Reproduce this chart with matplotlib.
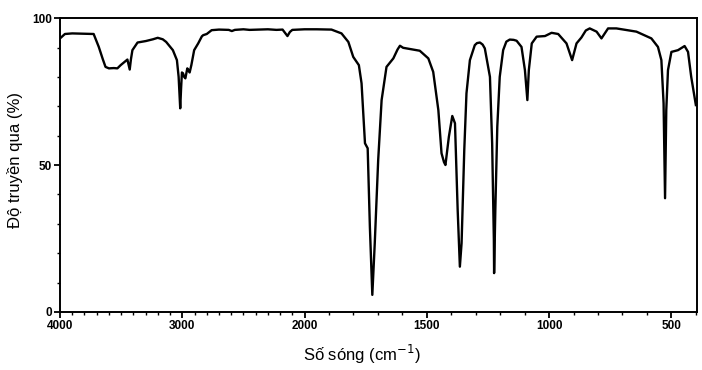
import numpy as np
import matplotlib
matplotlib.use("Agg")
import matplotlib.pyplot as plt
from matplotlib.ticker import FixedLocator

plt.rcParams['font.family'] = ['Liberation Sans', 'DejaVu Sans']

wavenumber = [4000, 3960, 3900, 3800, 3725, 3683, 3650, 3628, 3600, 3560, 3531, 3504,
              3475, 3449, 3438, 3430, 3420, 3408, 3366, 3298, 3240, 3201, 3160, 3132,
              3077, 3044, 3030, 3022, 3017, 3010, 3003, 2994, 2985, 2975, 2959, 2950,
              2940, 2926, 2903, 2870, 2840, 2829, 2800, 2760, 2700, 2620, 2595, 2570,
              2500, 2450, 2300, 2230, 2180, 2160, 2140, 2120, 2100, 2000, 1950, 1890,
              1849, 1821, 1801, 1778, 1767, 1753, 1742, 1733, 1723, 1713, 1699, 1685,
              1665, 1637, 1620, 1610, 1597, 1576, 1529, 1494, 1474, 1453, 1440, 1430,
              1424, 1410, 1396, 1385, 1374, 1365, 1358, 1347, 1338, 1324, 1304, 1295,
              1283, 1272, 1263, 1242, 1233, 1226, 1225, 1220, 1212, 1202, 1188, 1175,
              1161, 1145, 1133, 1113, 1099, 1089, 1083, 1071, 1051, 1017, 990, 963,
              929, 906, 888, 868, 850, 834, 806, 786, 759, 725, 643, 582,
              555, 541, 532, 526, 521, 514, 500, 473, 446, 432, 419, 400]
transmittance = [93.1, 94.6, 94.8, 94.7, 94.6, 90.2, 86.0, 83.4, 82.9, 83.0, 82.9, 84.0,
                 85.0, 85.9, 84.0, 82.5, 86.0, 89.1, 91.7, 92.2, 92.8, 93.3, 92.8, 91.9,
                 89.1, 85.7, 80.0, 73.8, 69.3, 76.0, 81.5, 81.2, 80.0, 79.5, 82.9, 82.3,
                 81.5, 84.0, 89.1, 91.4, 93.8, 94.2, 94.6, 95.9, 96.1, 96.0, 95.6, 96.0,
                 96.2, 96.0, 96.2, 96.0, 96.1, 95.0, 93.9, 95.3, 96.0, 96.2, 96.2, 96.1,
                 94.8, 91.9, 86.8, 84.0, 77.8, 57.4, 55.7, 29.0, 5.8, 23.4, 51.7, 72.1,
                 83.4, 86.3, 89.3, 90.6, 89.9, 89.6, 88.9, 86.3, 81.7, 68.7, 54.0, 51.0,
                 50.0, 59.6, 66.7, 64.2, 34.7, 15.4, 23.4, 55.1, 74.4, 85.7, 90.8, 91.5,
                 91.7, 91.0, 89.7, 80.0, 57.4, 24.5, 13.2, 34.7, 63.0, 80.0, 89.1, 92.0,
                 92.7, 92.6, 92.3, 90.2, 82.3, 72.1, 82.3, 91.4, 93.7, 93.9, 95.0, 94.6,
                 91.4, 85.7, 91.4, 93.4, 95.8, 96.5, 95.4, 93.1, 96.5, 96.5, 95.4, 93.1,
                 90.2, 85.7, 71.0, 38.7, 68.7, 82.3, 88.5, 89.1, 90.5, 88.5, 80.0, 70.4]

x_major = [4000, 3000, 2000, 1500, 1000, 500]
x_labels = ["4000", "3000", "2000", "1500", "1000", "500"]
y_major = [0, 50, 100]
y_labels = ["0", "50", "100"]


def fwd(x):
    x = np.asarray(x, dtype=float)
    return np.where(x <= 2000, x / 500.0, 4.0 + (x - 2000.0) / 1000.0)


def inv(u):
    u = np.asarray(u, dtype=float)
    return np.where(u <= 4, u * 500.0, 2000.0 + (u - 4.0) * 1000.0)


fig = plt.figure(figsize=(7.02, 3.70), dpi=100)
ax = fig.add_axes([0.0855, 0.157, 0.9075, 0.794])
ax.set_xscale('function', functions=(fwd, inv))
ax.plot(wavenumber, transmittance, color='black', linewidth=1.7,
        solid_joinstyle='round')
ax.set_xlim(4000, 395)
ax.set_ylim(0, 100)

ax.xaxis.set_major_locator(FixedLocator(x_major))
ax.set_xticklabels(x_labels)
minor_x = [v for v in range(400, 4000, 100) if v not in x_major]
ax.xaxis.set_minor_locator(FixedLocator(minor_x))
ax.yaxis.set_major_locator(FixedLocator(y_major))
ax.set_yticklabels(y_labels)
ax.yaxis.set_minor_locator(FixedLocator([v for v in range(10, 100, 10) if v != 50]))

ax.tick_params(axis='both', which='major', direction='out', length=4, width=1.3,
               labelsize=8.5, pad=2)
ax.tick_params(axis='both', which='minor', direction='out', length=2, width=1.0)
for lab in ax.get_xticklabels() + ax.get_yticklabels():
    lab.set_fontweight('bold')
for sp in ax.spines.values():
    sp.set_linewidth(1.4)

ax.set_xlabel("Số sóng (cm$^{-1}$)", fontsize=12, va='center')
ax.xaxis.set_label_coords(0.474, -0.146)
ax.set_ylabel("Độ truyền qua (%)", fontsize=12, va='center')
ax.yaxis.set_label_coords(-0.071, 0.517)

fig.savefig("out.png", dpi=100)
